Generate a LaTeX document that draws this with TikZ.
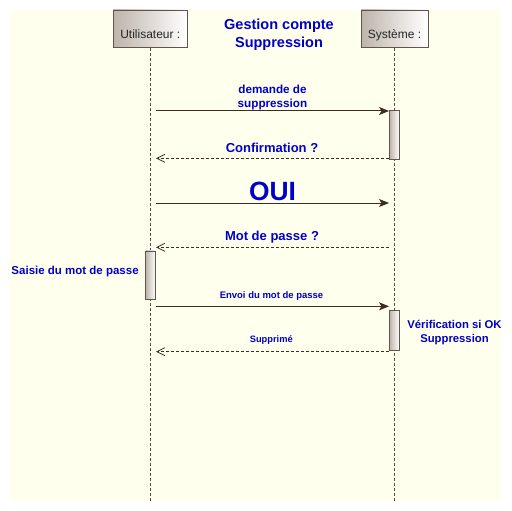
\documentclass[tikz,border=0pt]{standalone}
\usepackage{fontspec}
\setmainfont{Liberation Sans}
\usepackage{xcolor}
\usetikzlibrary{positioning}
\usetikzlibrary{arrows.meta}
\definecolor{fond}{RGB}{255,255,238}
\definecolor{trait}{RGB}{60,44,36}
\definecolor{coulvie}{RGB}{90,74,64}
\definecolor{cadre}{RGB}{96,84,76}
\definecolor{gris}{RGB}{190,180,170}
\definecolor{bleu}{RGB}{0,0,200}
\tikzstyle{acteur} = [rectangle, draw=cadre, left color=gris, right color=white, minimum height=37.7pt, inner sep=0pt, text height=20pt, text depth=0pt, font=\fontsize{12}{14}\selectfont, text=black!85]
\tikzstyle{activ} = [rectangle, draw=cadre, left color=gris, right color=white, minimum width=10pt, inner sep=0pt]
\tikzstyle{ligne} = [draw=coulvie, dash pattern=on 3pt off 2pt]
\tikzstyle{appel} = [draw=trait, line width=1pt, -{Stealth[length=10pt,width=8pt,inset=2.5pt]}]
\tikzstyle{retour} = [draw=trait, line width=0.8pt, dash pattern=on 3pt off 2pt, -{Straight Barb[length=8pt,width=8pt]}]
\tikzstyle{lbl} = [text=bleu, font=\bfseries, align=center, inner sep=0pt]

\begin{document}
\begin{tikzpicture}[x=1pt,y=-1pt]
      \useasboundingbox (0,0) rectangle (512,511);
      \fill[fond] (10,10) rectangle (501,501);
      %%%%%%%%%%%%%%%%%%%%%%%%%%%%%%%%%%%%%%%
      \draw (150.3,28.8) node (u) [acteur, minimum width=74pt] {Utilisateur :};
      \draw (394.5,28.8) node (s) [acteur, minimum width=66.4pt] {Syst\`eme :};
      \coordinate (ufin) at (150.3,501);
      \coordinate (sfin) at (394.5,501);
      \draw[ligne] (u.south)--(ufin);
      \draw[ligne] (s.south)--(sfin);
      %\node (titre) ...
      \draw (279,35) node (titre) [lbl, font=\fontsize{14.5}{17.7}\selectfont\bfseries] {Gestion compte\\Suppression};
      % activations
      \draw (394.3,134.8) node (a1) [activ, minimum height=49pt] {};
      \draw (150.5,275) node (a2) [activ, minimum height=48.6pt] {};
      \draw (394.3,330.3) node (a3) [activ, minimum height=40pt] {};
      % messages
      \coordinate (m1a) at (156,111);
      \coordinate (m1b) at (389,111);
      \coordinate (m2a) at (389,158.3);
      \coordinate (m2b) at (156,158.3);
      \coordinate (m3a) at (156,203);
      \coordinate (m3b) at (389,203);
      \coordinate (m4a) at (389,247.3);
      \coordinate (m4b) at (156,247.3);
      \coordinate (m5a) at (156,306.3);
      \coordinate (m5b) at (389,306.3);
      \coordinate (m6a) at (389,351.7);
      \coordinate (m6b) at (156,351.7);
      \draw[appel] (m1a)--(m1b);
      \draw[retour] (m2a)--(m2b);
      \draw[appel] (m3a)--(m3b);
      \draw[retour] (m4a)--(m4b);
      \draw[appel] (m5a)--(m5b);
      \draw[retour] (m6a)--(m6b);
      % textes
      \draw (272.5,97.3) node (t1) [lbl, font=\fontsize{11.7}{14}\selectfont\bfseries] {demande de\\suppression};
      \draw (272,152) node (t2) [lbl, anchor=base, font=\fontsize{13}{15}\selectfont\bfseries] {Confirmation ?};
      \draw (272.5,200) node (t3) [lbl, anchor=base, font=\fontsize{26.4}{30}\selectfont\bfseries] {OUI};
      \draw (272,240) node (t4) [lbl, anchor=base, font=\fontsize{13}{15}\selectfont\bfseries] {Mot de passe ?};
      \draw (11.3,274) node (t5) [lbl, anchor=base west, font=\fontsize{11.5}{14}\selectfont\bfseries] {Saisie du mot de passe};
      \draw (271.5,298.7) node (t6) [lbl, anchor=base, font=\fontsize{9.5}{11}\selectfont\bfseries] {Envoi du mot de passe};
      \draw (454.5,332.8) node (t7) [lbl, font=\fontsize{11.3}{14}\selectfont\bfseries] {V\'erification si OK\\Suppression};
      \draw (271.3,342.7) node (t8) [lbl, anchor=base, font=\fontsize{9.3}{11}\selectfont\bfseries] {Supprim\'e};
\end{tikzpicture}
\end{document}
